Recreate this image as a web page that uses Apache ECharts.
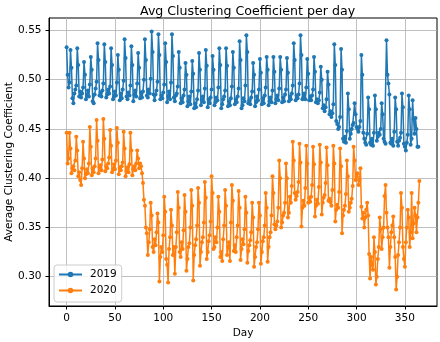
<!DOCTYPE html>
<html>
<head>
<meta charset="utf-8">
<script src="https://cdn.jsdelivr.net/npm/echarts@6/dist/echarts.min.js"></script>
<style>
  html, body { margin: 0; padding: 0; background: #fff; }
  #chart { width: 440px; height: 342px; }
</style>
</head>
<body>
<div id="chart"></div>
<script>
const dayTicks = [0, 50, 100, 150, 200, 250, 300, 350];
const valueTicks = [0.30, 0.35, 0.40, 0.45, 0.50, 0.55];
const seriesNames = ["2019", "2020"];

// one row per week, 2019 starts on a Tuesday
const clustering2019 = [
  0.533, 0.505, 0.492, 0.497, 0.530, 0.512, 0.481,
  0.476, 0.486, 0.490, 0.494, 0.532, 0.515, 0.483,
  0.488, 0.482, 0.486, 0.492, 0.518, 0.505, 0.480,
  0.484, 0.489, 0.483, 0.495, 0.523, 0.510, 0.478,
  0.476, 0.485, 0.491, 0.498, 0.537, 0.520, 0.484,
  0.487, 0.483, 0.489, 0.496, 0.536, 0.518, 0.482,
  0.485, 0.490, 0.486, 0.493, 0.532, 0.515, 0.480,
  0.483, 0.488, 0.484, 0.497, 0.525, 0.510, 0.479,
  0.486, 0.481, 0.490, 0.499, 0.541, 0.522, 0.483,
  0.480, 0.487, 0.484, 0.494, 0.534, 0.515, 0.478,
  0.485, 0.489, 0.483, 0.496, 0.527, 0.512, 0.481,
  0.487, 0.482, 0.488, 0.500, 0.541, 0.520, 0.484,
  0.482, 0.490, 0.486, 0.501, 0.549, 0.528, 0.485,
  0.479, 0.485, 0.489, 0.498, 0.546, 0.525, 0.480,
  0.484, 0.481, 0.487, 0.495, 0.537, 0.518, 0.477,
  0.483, 0.488, 0.480, 0.497, 0.546, 0.524, 0.482,
  0.478, 0.484, 0.486, 0.493, 0.528, 0.512, 0.476,
  0.481, 0.477, 0.484, 0.490, 0.517, 0.505, 0.473,
  0.478, 0.483, 0.475, 0.488, 0.519, 0.506, 0.471,
  0.476, 0.472, 0.480, 0.489, 0.527, 0.510, 0.474,
  0.479, 0.483, 0.477, 0.491, 0.530, 0.514, 0.472,
  0.480, 0.476, 0.482, 0.490, 0.524, 0.510, 0.474,
  0.477, 0.482, 0.479, 0.492, 0.532, 0.515, 0.471,
  0.475, 0.480, 0.483, 0.489, 0.532, 0.514, 0.473,
  0.478, 0.474, 0.481, 0.493, 0.528, 0.512, 0.475,
  0.480, 0.477, 0.483, 0.491, 0.539, 0.520, 0.471,
  0.474, 0.481, 0.478, 0.494, 0.545, 0.528, 0.476,
  0.479, 0.475, 0.482, 0.488, 0.517, 0.505, 0.473,
  0.477, 0.483, 0.479, 0.490, 0.521, 0.507, 0.475,
  0.481, 0.476, 0.484, 0.492, 0.523, 0.510, 0.474,
  0.478, 0.482, 0.477, 0.489, 0.523, 0.508, 0.476,
  0.480, 0.484, 0.479, 0.491, 0.523, 0.510, 0.477,
  0.482, 0.478, 0.485, 0.490, 0.522, 0.507, 0.478,
  0.483, 0.480, 0.486, 0.494, 0.537, 0.520, 0.479,
  0.484, 0.481, 0.485, 0.496, 0.545, 0.525, 0.480,
  0.482, 0.486, 0.480, 0.492, 0.521, 0.506, 0.479,
  0.483, 0.479, 0.484, 0.490, 0.523, 0.508, 0.477,
  0.480, 0.476, 0.479, 0.487, 0.513, 0.500, 0.471,
  0.474, 0.468, 0.472, 0.480, 0.508, 0.495, 0.465,
  0.468, 0.462, 0.466, 0.475, 0.536, 0.515, 0.458,
  0.455, 0.450, 0.452, 0.462, 0.531, 0.510, 0.440,
  0.437, 0.442, 0.436, 0.448, 0.486, 0.470, 0.440,
  0.445, 0.450, 0.454, 0.456, 0.476, 0.465, 0.452,
  0.450, 0.447, 0.452, 0.458, 0.525, 0.505, 0.446,
  0.440, 0.436, 0.434, 0.445, 0.482, 0.470, 0.436,
  0.434, 0.440, 0.433, 0.446, 0.484, 0.470, 0.438,
  0.442, 0.446, 0.444, 0.450, 0.476, 0.465, 0.440,
  0.437, 0.435, 0.540, 0.505, 0.496, 0.485, 0.436,
  0.435, 0.440, 0.433, 0.447, 0.482, 0.470, 0.437,
  0.433, 0.438, 0.441, 0.446, 0.486, 0.472, 0.435,
  0.432, 0.428, 0.436, 0.444, 0.484, 0.470, 0.434,
  0.440, 0.479, 0.460, 0.445, 0.461, 0.450, 0.432,
  0.432
];

// one row per week, 2020 starts on a Wednesday
const clustering2020 = [
  0.446, 0.415, 0.420, 0.446, 0.430, 0.405, 0.410,
  0.412, 0.408, 0.418, 0.442, 0.428, 0.402, 0.406,
  0.398, 0.393, 0.410, 0.437, 0.420, 0.400, 0.404,
  0.409, 0.405, 0.415, 0.452, 0.432, 0.403, 0.410,
  0.406, 0.412, 0.420, 0.459, 0.438, 0.405, 0.411,
  0.413, 0.408, 0.419, 0.460, 0.440, 0.407, 0.412,
  0.410, 0.415, 0.421, 0.449, 0.433, 0.406, 0.409,
  0.414, 0.409, 0.418, 0.451, 0.436, 0.404, 0.411,
  0.408, 0.412, 0.416, 0.447, 0.430, 0.402, 0.407,
  0.411, 0.406, 0.414, 0.446, 0.428, 0.403, 0.409,
  0.412, 0.408, 0.415, 0.428, 0.420, 0.410, 0.415,
  0.412, 0.405, 0.395, 0.378, 0.372, 0.350, 0.344,
  0.322, 0.335, 0.348, 0.375, 0.362, 0.330, 0.325,
  0.338, 0.332, 0.345, 0.364, 0.355, 0.295, 0.320,
  0.330, 0.325, 0.342, 0.381, 0.366, 0.318, 0.312,
  0.294, 0.328, 0.340, 0.368, 0.352, 0.322, 0.330,
  0.303, 0.330, 0.345, 0.386, 0.370, 0.325, 0.320,
  0.335, 0.328, 0.347, 0.383, 0.366, 0.306, 0.318,
  0.330, 0.334, 0.350, 0.388, 0.372, 0.296, 0.322,
  0.332, 0.338, 0.352, 0.390, 0.375, 0.311, 0.325,
  0.335, 0.340, 0.355, 0.396, 0.380, 0.318, 0.325,
  0.336, 0.342, 0.356, 0.402, 0.385, 0.328, 0.330,
  0.340, 0.335, 0.350, 0.381, 0.366, 0.320, 0.325,
  0.316, 0.338, 0.352, 0.388, 0.372, 0.322, 0.330,
  0.335, 0.316, 0.355, 0.393, 0.377, 0.326, 0.332,
  0.325, 0.340, 0.352, 0.387, 0.370, 0.317, 0.328,
  0.338, 0.333, 0.348, 0.381, 0.365, 0.314, 0.326,
  0.332, 0.337, 0.345, 0.375, 0.360, 0.310, 0.320,
  0.330, 0.335, 0.348, 0.375, 0.362, 0.313, 0.325,
  0.336, 0.340, 0.352, 0.385, 0.370, 0.315, 0.330,
  0.340, 0.345, 0.362, 0.402, 0.385, 0.353, 0.348,
  0.352, 0.356, 0.370, 0.418, 0.400, 0.350, 0.355,
  0.362, 0.365, 0.375, 0.415, 0.400, 0.360, 0.365,
  0.381, 0.375, 0.392, 0.437, 0.418, 0.385, 0.378,
  0.382, 0.386, 0.396, 0.435, 0.416, 0.351, 0.370,
  0.377, 0.372, 0.390, 0.433, 0.415, 0.375, 0.380,
  0.376, 0.381, 0.393, 0.432, 0.414, 0.361, 0.372,
  0.378, 0.374, 0.391, 0.434, 0.416, 0.363, 0.375,
  0.380, 0.383, 0.395, 0.431, 0.413, 0.377, 0.379,
  0.376, 0.372, 0.388, 0.433, 0.415, 0.356, 0.368,
  0.373, 0.370, 0.386, 0.430, 0.412, 0.344, 0.362,
  0.368, 0.372, 0.384, 0.418, 0.402, 0.366, 0.370,
  0.375, 0.379, 0.392, 0.432, 0.418, 0.398, 0.402,
  0.405, 0.393, 0.398, 0.410, 0.371, 0.359, 0.365,
  0.350, 0.360, 0.368, 0.375, 0.362, 0.323, 0.298,
  0.320, 0.312, 0.307, 0.340, 0.325, 0.292, 0.300,
  0.318, 0.330, 0.360, 0.348, 0.328, 0.340, 0.350,
  0.382, 0.393, 0.365, 0.350, 0.340, 0.309, 0.330,
  0.345, 0.352, 0.361, 0.340, 0.320, 0.287, 0.300,
  0.322, 0.335, 0.350, 0.385, 0.370, 0.330, 0.318,
  0.310, 0.335, 0.350, 0.368, 0.360, 0.330, 0.345,
  0.385, 0.339, 0.354, 0.370, 0.362, 0.345, 0.360,
  0.375, 0.397
];

const font = "DejaVu Sans";
const chart = echarts.init(document.getElementById("chart"), null, { renderer: "canvas" });

const lineSeries = (name, values, color) => ({
  name: name,
  type: "line",
  data: values.map((v, i) => [i, v]),
  color: color,
  lineStyle: { width: 1.5, color: color },
  itemStyle: { color: color },
  symbol: "circle",
  symbolSize: 4,
  showSymbol: true,
  showAllSymbol: true,
  animation: false,
});

chart.setOption({
  backgroundColor: "#fff",
  animation: false,
  title: {
    text: "Avg Clustering Coefficient per day",
    left: 135,
    top: 0,
    textStyle: { fontFamily: font, fontSize: 12.6, fontWeight: "normal", color: "#000" },
  },
  legend: {
    data: seriesNames,
    orient: "vertical",
    left: 54,
    top: 265,
    itemWidth: 23,
    itemHeight: 7,
    itemGap: 5,
    padding: [4, 5, 6, 4],
    backgroundColor: "rgba(255,255,255,0.8)",
    borderColor: "#cccccc",
    borderWidth: 1,
    borderRadius: 3,
    textStyle: { fontFamily: font, fontSize: 10.5, color: "#000", padding: [0, 0, 0, 3] },
  },
  grid: {
    left: 49,
    right: 3,
    top: 18,
    bottom: 36,
    outerBoundsMode: "none",
    show: true,
    borderColor: "#000",
    borderWidth: 1,
    backgroundColor: "#fff",
  },
  xAxis: {
    type: "value",
    min: -18.25,
    max: 383.25,
    name: "Day",
    nameLocation: "middle",
    nameGap: 22,
    nameMoveOverlap: false,
    nameTextStyle: { fontFamily: font, fontSize: 10.5, color: "#000" },
    axisLine: { onZero: false, lineStyle: { color: "#000", width: 1 } },
    axisTick: { customValues: dayTicks, length: 3.5, lineStyle: { color: "#000" } },
    axisLabel: {
      customValues: dayTicks,
      margin: 7,
      fontFamily: font,
      fontSize: 10.5,
      color: "#000",
      formatter: (v) => String(v),
    },
    splitLine: { show: true, lineStyle: { color: "#b0b0b0", width: 0.8 } },
  },
  yAxis: {
    type: "value",
    min: 0.2702,
    max: 0.5626,
    name: "Average Clustering Coefficient",
    nameLocation: "middle",
    nameGap: 34,
    nameMoveOverlap: false,
    nameTextStyle: { fontFamily: font, fontSize: 10.5, color: "#000" },
    axisLine: { onZero: false, lineStyle: { color: "#000", width: 1 } },
    axisTick: { customValues: valueTicks, length: 3.5, lineStyle: { color: "#000" } },
    axisLabel: {
      customValues: valueTicks,
      margin: 7.5,
      fontFamily: font,
      fontSize: 10.5,
      color: "#000",
      formatter: (v) => v.toFixed(2),
    },
    splitLine: { show: true, lineStyle: { color: "#b0b0b0", width: 0.8 } },
  },
  series: [
    lineSeries(seriesNames[0], clustering2019, "#1f77b4"),
    lineSeries(seriesNames[1], clustering2020, "#ff7f0e"),
  ],
});
</script>
</body>
</html>
